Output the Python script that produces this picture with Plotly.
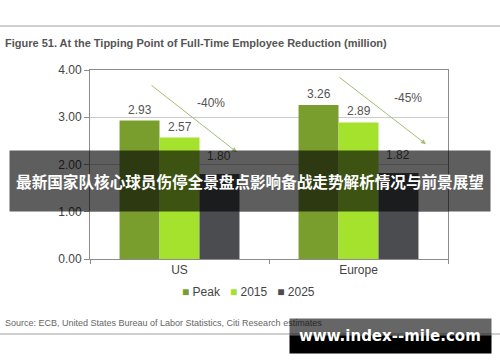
import plotly.graph_objects as go

# ---- data ----
categories = ["US", "Europe"]
series_names = ["Peak", "2015", "2025"]
peak_vals = [2.93, 3.26]
y2015_vals = [2.57, 2.89]
y2025_vals = [1.80, 1.82]
change_labels = ["-40%", "-45%"]
y_ticks = [0, 1, 2, 3, 4]

colors = ["#7a9e2e", "#a4e22e", "#4b4c50"]
series_vals = [peak_vals, y2015_vals, y2025_vals]

W, H = 500, 362
L, R, T, B = 90, 448, 70, 259  # plot area in px


def px(x):
    return (x - L) / (R - L)


def py(y):
    return (B - y) / (B - T)


FONT = "Liberation Sans, Arial, sans-serif"
fig = go.Figure()
for name, vals, c in zip(series_names, series_vals, colors):
    fig.add_trace(go.Bar(name=name, x=categories, y=vals, marker=dict(color=c, line=dict(width=0)),
                         hoverinfo="x+y+name", showlegend=False))

bargap = 0.33
bw = (1 - bargap) / 3
annotations = []
# data labels
for k, vals in enumerate(series_vals):
    off = (k - 1) * bw
    shift = 9 if k == 2 else 2
    for i, v in enumerate(vals):
        annotations.append(dict(x=i + off, y=v, xref="x", yref="y", text=f"{v:.2f}",
                                showarrow=False, yanchor="bottom", yshift=shift,
                                font=dict(family=FONT, size=12, color="#555555")))

# trend arrows (decoration) and percentage labels
arrow_start = [(-0.165, 3.70), (0.885, 3.87)]
arrow_end = [(0.321, 2.26), (1.377, 2.43)]
pct_pos = [(0.176, 3.30), (1.277, 3.41)]
for (sx, sy), (ex, ey), (tx, ty), lab in zip(arrow_start, arrow_end, pct_pos, change_labels):
    annotations.append(dict(x=ex, y=ey, ax=sx, ay=sy, xref="x", yref="y", axref="x", ayref="y",
                            text="", showarrow=True, arrowhead=2, arrowsize=1, arrowwidth=1,
                            arrowcolor="#a3bd72"))
    annotations.append(dict(x=tx, y=ty, xref="x", yref="y", text=lab, showarrow=False,
                            font=dict(family=FONT, size=12, color="#555555")))

# legend (compact, as in the reference)
legend_text = "&nbsp;&nbsp;&nbsp;".join(
    f"<span style='color:{c}'>■</span> {n}" for n, c in zip(series_names, colors))
annotations.append(dict(x=px(248), y=py(292), xref="paper", yref="paper", xanchor="center", yanchor="middle",
                        text=legend_text, showarrow=False,
                        font=dict(family=FONT, size=12, color="#444444")))

# title and source
annotations.append(dict(x=px(3), y=py(43), xref="paper", yref="paper", xanchor="left", yanchor="middle",
                        text="<b>Figure 51. At the Tipping Point of Full-Time Employee Reduction (million)</b>",
                        showarrow=False, font=dict(family=FONT, size=11, color="#555555")))
annotations.append(dict(x=px(3), y=py(323), xref="paper", yref="paper", xanchor="left", yanchor="middle",
                        text="Source: ECB, United States Bureau of Labor Statistics, Citi Research estimates",
                        showarrow=False, font=dict(family=FONT, size=9, color="#666666")))

# overlay band with Chinese headline
annotations.append(dict(x=px(250), y=py(181), xref="paper", yref="paper", xanchor="center", yanchor="middle",
                        width=480, height=60, borderpad=0, bgcolor="rgba(0,0,0,0.63)",
                        text="<b>最新国家队核心球员伤停全景盘点影响备战走势解析情况与前景展望</b>",
                        showarrow=False,
                        font=dict(family="Noto Sans CJK SC", size=15.6, color="#ffffff")))
# watermark
annotations.append(dict(x=px(390.5), y=py(327.5), xref="paper", yref="paper", xanchor="center", yanchor="middle",
                        width=201, height=17, borderpad=0, bgcolor="rgba(0,0,0,0.6)", text=" ",
                        showarrow=False, font=dict(size=10)))
annotations.append(dict(x=px(390.5), y=py(344.5), xref="paper", yref="paper", xanchor="center", yanchor="middle",
                        width=201, height=17, borderpad=0, bgcolor="#000000", text=" ",
                        showarrow=False, font=dict(size=10)))
annotations.append(dict(x=px(390), y=py(336), xref="paper", yref="paper", xanchor="center", yanchor="middle",
                        text="<b>www.index--mile.com</b>", showarrow=False,
                        font=dict(family="DejaVu Sans", size=15, color="#ffffff")))

shapes = [
    dict(type="line", xref="paper", yref="paper", x0=px(0), x1=px(500), y0=py(26), y1=py(26),
         line=dict(color="#a0a0a0", width=1)),
    dict(type="line", xref="paper", yref="paper", x0=px(0), x1=px(500), y0=py(334), y1=py(334),
         line=dict(color="#a0a0a0", width=1)),
]

fig.update_layout(
    width=W, height=H,
    margin=dict(l=L, r=W - R, t=T, b=H - B),
    paper_bgcolor="white", plot_bgcolor="white",
    barmode="group", bargap=bargap, bargroupgap=0,
    font=dict(family=FONT, size=12, color="#444444"),
    xaxis=dict(range=[-0.5, 1.5], showline=True, linecolor="#8c8c8c", mirror=True,
               ticks="outside", tickson="boundaries", ticklen=4, tickcolor="#8c8c8c",
               showgrid=False, tickfont=dict(size=12, color="#444444")),
    yaxis=dict(range=[0, 4], tickvals=y_ticks, tickformat=".2f", showline=True, linecolor="#8c8c8c",
               mirror=True, ticks="outside", ticklen=5, tickcolor="#8c8c8c", showgrid=True,
               gridcolor="#cccccc", zeroline=False, tickfont=dict(size=12, color="#444444")),
    showlegend=False,
    annotations=annotations,
    shapes=shapes,
)

fig.write_html("out.html", config={"displayModeBar": False},
               post_script="document.body.style.margin='0';document.body.style.overflow='hidden';")
